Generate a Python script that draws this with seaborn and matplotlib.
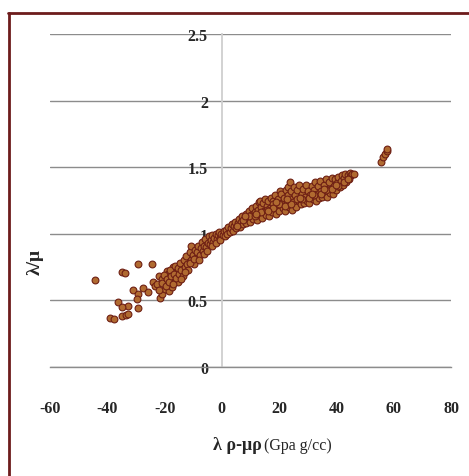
import matplotlib
matplotlib.use("Agg")
import matplotlib.pyplot as plt
import seaborn as sns
import pandas as pd
from matplotlib.lines import Line2D

# ---- data ----
x_sparse = [-44.3, -35.0, -33.8, -29.4, -24.4, -39.0, -37.6, -35.0, -33.3, -32.7, -36.2, -35.0,
            -32.9, -29.4, -31.0, -29.2, -29.6, -27.5, -25.9, -24.2, -23.4, -22.0, -21.0, -21.6,
            -21.0, -19.3, -18.7, -19.9, -18.4, -17.0, -15.8, -16.4, -15.2, -17.5]
y_sparse = [0.65, 0.71, 0.705, 0.77, 0.77, 0.37, 0.36, 0.38, 0.39, 0.46, 0.49, 0.45,
            0.40, 0.44, 0.58, 0.55, 0.51, 0.59, 0.565, 0.64, 0.605, 0.685, 0.66, 0.52,
            0.55, 0.72, 0.70, 0.585, 0.57, 0.75, 0.71, 0.65, 0.635, 0.60]

x_neg_band = [-22.5, -21.8, -20.8, -20.3, -19.6, -19.0, -18.5, -18.1, -17.6, -17.2, -16.8, -16.2,
              -15.9, -15.4, -14.9, -14.6, -14.1, -13.7, -13.3, -12.9, -12.5, -12.1, -11.7, -11.2,
              -10.9, -10.6, -10.2, -9.8, -9.4, -9.0, -8.6, -8.2, -7.8, -7.4, -7.0, -6.6,
              -6.2, -5.8, -5.4, -5.0, -4.6, -4.2, -3.8, -3.4, -3.0, -2.6, -2.2, -1.8,
              -1.4, -1.0, -0.6, -0.2,
              -14.4, -12.7, -11.0, -9.6, -8.0, -6.4, -5.2, -3.6, -2.0, -0.8]
y_neg_band = [0.62, 0.58, 0.63, 0.69, 0.61, 0.66, 0.64, 0.73, 0.68, 0.62, 0.70, 0.76,
              0.67, 0.74, 0.70, 0.78, 0.73, 0.68, 0.80, 0.75, 0.83, 0.77, 0.73, 0.86,
              0.91, 0.80, 0.84, 0.77, 0.88, 0.82, 0.86, 0.91, 0.84, 0.89, 0.94, 0.87,
              0.91, 0.96, 0.90, 0.93, 0.98, 0.92, 0.95, 0.99, 0.94, 0.97, 1.00, 0.96,
              0.99, 1.01, 0.97, 1.00,
              0.66, 0.71, 0.78, 0.81, 0.80, 0.85, 0.87, 0.91, 0.93, 0.95]

x_pos_band = [0.3, 0.7, 1.1, 1.5, 1.9, 2.3, 2.7, 3.1, 3.5, 3.9, 4.3,
              4.7, 5.1, 5.5, 5.9, 6.3, 6.7, 7.1, 7.5, 7.9, 8.3, 8.6,
              9.0, 9.4, 9.8, 10.2, 10.6, 11.0, 11.4, 11.8, 12.2, 12.6, 12.8, 13.3, 13.0,
              13.6, 14.0, 14.3, 14.7, 15.1, 15.4, 15.8, 16.2, 16.5, 16.9, 17.3, 17.7,
              17.5, 18.0, 18.4, 18.8, 19.2, 19.6, 20.0, 20.2, 20.5, 20.8, 21.2, 21.6,
              22.0, 22.3, 22.6, 23.1, 23.0, 23.4, 23.7, 23.9, 24.3, 24.6, 25.0, 25.3,
              25.7, 26.0, 26.4, 26.8, 27.1, 27.5, 27.9, 28.3, 28.6, 29.0, 29.4, 29.8,
              30.1, 30.5, 30.9, 31.3, 31.7, 32.0, 32.4, 32.8, 33.2, 33.6, 34.0, 34.3,
              34.7, 35.1, 35.5, 35.9, 36.3, 36.7, 37.1, 37.5, 37.9, 38.3, 38.7, 39.1,
              39.5, 39.9, 40.3, 40.7, 41.1, 41.5, 41.9, 42.3, 42.7, 43.1, 43.5, 43.9,
              44.3, 44.7, 45.1, 45.6, 46.0,
              5.3, 7.3, 9.6, 11.6, 13.8, 15.6, 17.9, 19.8, 21.9, 24.1, 26.2, 28.1,
              30.3, 32.2, 34.5, 36.5, 38.5, 40.5, 42.5, 44.0,
              8.0, 12.0, 16.0, 19.0, 22.8, 27.3, 31.5, 35.7, 39.7]
y_pos_band = [0.99, 1.02, 0.98, 1.03, 1.00, 1.05, 1.01, 1.04, 1.07, 1.02, 1.06,
              1.09, 1.04, 1.08, 1.11, 1.05, 1.09, 1.13, 1.07, 1.11, 1.15, 1.08,
              1.12, 1.17, 1.09, 1.14, 1.19, 1.11, 1.16, 1.21, 1.10, 1.18, 1.24, 1.25, 1.14,
              1.20, 1.12, 1.23, 1.17, 1.26, 1.14, 1.21, 1.25, 1.13, 1.19, 1.27, 1.25,
              1.16, 1.22, 1.29, 1.15, 1.20, 1.26, 1.17, 1.32, 1.23, 1.30, 1.19, 1.27,
              1.17, 1.33, 1.23, 1.35, 1.29, 1.20, 1.39, 1.26, 1.32, 1.18, 1.24, 1.35,
              1.29, 1.20, 1.33, 1.25, 1.37, 1.22, 1.30, 1.34, 1.23, 1.28, 1.37, 1.25,
              1.32, 1.23, 1.29, 1.36, 1.26, 1.33, 1.39, 1.25, 1.30, 1.36, 1.27, 1.40,
              1.32, 1.28, 1.37, 1.30, 1.41, 1.28, 1.34, 1.39, 1.31, 1.42, 1.30, 1.36,
              1.41, 1.33, 1.38, 1.43, 1.35, 1.40, 1.44, 1.37, 1.42, 1.45, 1.39, 1.44,
              1.41, 1.46, 1.44, 1.45, 1.45,
              1.06, 1.10, 1.13, 1.13, 1.16, 1.18, 1.19, 1.22, 1.21, 1.22, 1.26, 1.26,
              1.27, 1.29, 1.30, 1.33, 1.34, 1.36, 1.39, 1.41,
              1.13, 1.15, 1.17, 1.24, 1.26, 1.27, 1.30, 1.34, 1.37]

x_outlier = [55.7, 56.3, 57.1, 57.7, 57.7]
y_outlier = [1.54, 1.575, 1.60, 1.625, 1.64]

x_ticks = [-60, -40, -20, 0, 20, 40, 60, 80]
y_ticks = [0, 0.5, 1, 1.5, 2, 2.5]
y_tick_labels = ["0", "0.5", "1", "1.5", "2", "2.5"]

df = pd.DataFrame({
    "x": x_sparse + x_neg_band + x_pos_band + x_outlier,
    "y": y_sparse + y_neg_band + y_pos_band + y_outlier,
})

sns.set_style("white")
plt.rcParams["font.family"] = ["Liberation Serif", "DejaVu Serif"]
plt.rcParams["axes.unicode_minus"] = False

W, H = 469, 477
fig = plt.figure(figsize=(W / 100, H / 100), dpi=100)
ax = fig.add_axes([50 / W, 1 - 368 / H, (451 - 50) / W, (368 - 35) / H])

sns.scatterplot(data=df, x="x", y="y", ax=ax, s=24, color="#b06a30",
                edgecolor="#6e1f14", linewidth=0.8, zorder=3, legend=False)

ax.set_xlim(-60, 80)
ax.set_ylim(0, 2.5)
ax.set_xticks(x_ticks)
ax.set_yticks(y_ticks)
ax.set_yticklabels(y_tick_labels)
ax.set_xlabel("")
ax.set_ylabel("")

ax.yaxis.grid(True, color="#8c8c8c", linewidth=1.0, zorder=0)
ax.xaxis.grid(False)
ax.set_axisbelow(True)

for side in ["top", "right"]:
    ax.spines[side].set_visible(False)
ax.spines["left"].set_position(("data", 0))
ax.spines["left"].set_color("#cfcfcf")
ax.spines["left"].set_linewidth(1.3)
ax.spines["bottom"].set_color("#8c8c8c")
ax.spines["bottom"].set_linewidth(1.0)

ax.tick_params(axis="y", length=0, pad=10, labelsize=11.5)
ax.tick_params(axis="x", direction="out", length=4, width=1.0, color="#8c8c8c",
               pad=20, labelsize=11.5)
for lab in ax.get_xticklabels() + ax.get_yticklabels():
    lab.set_fontweight("bold")

# axis titles
fig.text(262 / W, 1 - 445 / H, "λ ρ-μρ", ha="right", va="center",
         fontsize=13, fontweight="bold")
fig.text(264 / W, 1 - 446 / H, "(Gpa g/cc)", ha="left", va="center", fontsize=11.5)
fig.text(35 / W, 1 - 262 / H, "λ/μ", ha="center", va="center", rotation=90,
         fontsize=14, fontweight="bold")

# outer frame (dark red)
frame_col = "#6d1c1c"
fig.add_artist(Line2D([9 / W, 9 / W], [0, 1 - 14 / H], transform=fig.transFigure,
                      color=frame_col, linewidth=2.0))
fig.add_artist(Line2D([8 / W, 1], [1 - 14 / H, 1 - 14 / H], transform=fig.transFigure,
                      color=frame_col, linewidth=2.0))

fig.savefig("out.png", dpi=100)
